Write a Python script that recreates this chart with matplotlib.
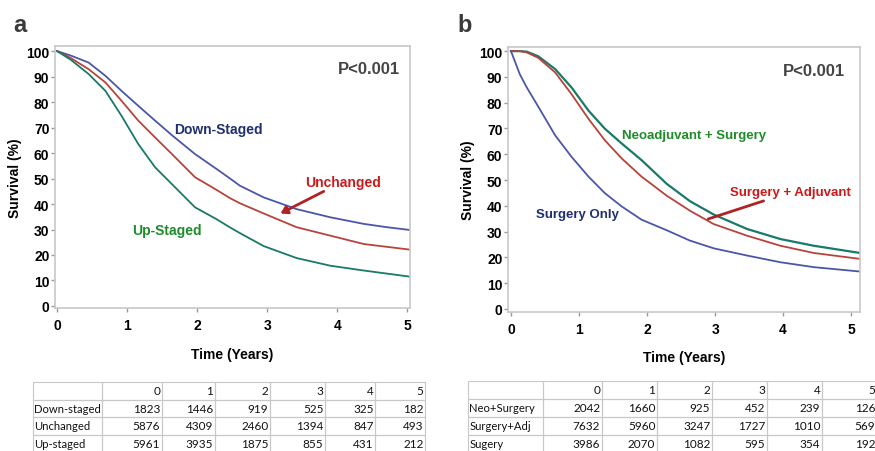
"""
Kaplan-Meier style survival curves with numbers-at-risk tables (panels a and b)
"""
import matplotlib.pyplot as plt

# ---- panel a data ----
t_a = [0, 0.2, 0.45, 0.69, 0.92, 1.16, 1.4, 1.64, 1.97, 2.28, 2.47, 2.61, 2.95,
       3.42, 3.9, 4.38, 4.71, 5.04]
down_staged = [100, 98.2, 95.5, 90.3, 84.4, 78.5, 72.7, 67.0, 59.6, 53.7, 50.0, 47.2,
               42.6, 38.0, 34.8, 32.2, 30.9, 29.8]
unchanged = [100, 97.2, 92.9, 87.7, 80.5, 72.7, 66.1, 59.6, 50.5, 45.5, 42.3, 40.3,
             36.3, 30.9, 27.6, 24.3, 23.2, 22.1]
up_staged = [100, 96.5, 91.0, 84.4, 74.6, 63.5, 54.4, 47.8, 38.7, 34.0, 30.8, 28.6,
             23.5, 18.8, 15.8, 13.9, 12.7, 11.5]

# ---- panel b data ----
t_b = [0, 0.13, 0.23, 0.4, 0.65, 0.89, 1.14, 1.38, 1.63, 1.92, 2.29, 2.63, 2.98,
       3.47, 3.96, 4.45, 5.13]
neo_surgery = [100, 100, 99.8, 98.0, 93.0, 85.9, 76.9, 69.9, 64.1, 57.7, 48.5, 41.8,
               36.6, 31.0, 27.1, 24.5, 21.7]
surgery_adj = [100, 100, 99.5, 97.4, 91.7, 83.3, 73.7, 65.4, 58.3, 51.3, 43.9, 38.1,
               32.9, 28.4, 24.5, 21.7, 19.4]
surgery_only = [100, 91.0, 86.0, 78.5, 67.3, 59.0, 51.3, 44.9, 39.7, 34.6, 30.5, 26.5,
                23.5, 20.7, 18.1, 16.2, 14.5]

# ---- numbers at risk ----
years = ["0", "1", "2", "3", "4", "5"]
risk_a_rows = ["Down-staged", "Unchanged", "Up-staged"]
risk_a = [[1823, 1446, 919, 525, 325, 182],
          [5876, 4309, 2460, 1394, 847, 493],
          [5961, 3935, 1875, 855, 431, 212]]
risk_b_rows = ["Neo+Surgery", "Surgery+Adj", "Sugery"]
risk_b = [[2042, 1660, 925, 452, 239, 126],
          [7632, 5960, 3247, 1727, 1010, 569],
          [3986, 2070, 1082, 595, 354, 192]]

BLUE = "#4b56a8"
RED = "#b8433a"
TEAL = "#187a68"
GRID = "#c8c8c8"

plt.rcParams['font.family'] = ['Liberation Sans', 'DejaVu Sans']

fig = plt.figure(figsize=(8.75, 4.52), dpi=100)


def style_axes(ax, xlim, ylim, xpad):
    ax.set_xlim(*xlim)
    ax.set_ylim(*ylim)
    ax.set_xticks(range(6))
    ax.set_yticks(range(0, 101, 10))
    for s in ax.spines.values():
        s.set_color(GRID)
        s.set_linewidth(1.2)
    ax.tick_params(axis="both", colors="#999999", length=3, width=1, labelcolor="black",
                   labelsize=10)
    ax.tick_params(axis="x", pad=4)
    ax.tick_params(axis="y", pad=1)
    for lab in ax.get_xticklabels() + ax.get_yticklabels():
        lab.set_fontweight("bold")
    ax.set_xlabel("Time (Years)", fontsize=10, fontweight="bold", labelpad=xpad)
    ax.set_ylabel("Survival (%)", fontsize=10, fontweight="bold", labelpad=3)


def draw_table(rect, rows, values, widths):
    tax = fig.add_axes(rect)
    tax.axis("off")
    cells = [[""] + years] + [[r] + [str(v) for v in vals] for r, vals in zip(rows, values)]
    tot = sum(widths)
    tbl = tax.table(cellText=cells, bbox=[0, 0, 1, 1],
                    colWidths=[w / tot for w in widths])
    tbl.auto_set_font_size(False)
    for (r, c), cell in tbl.get_celld().items():
        cell.set_edgecolor(GRID)
        cell.set_facecolor("none")
        cell.set_linewidth(0.8)
        txt = cell.get_text()
        txt.set_fontsize(8.1 if c == 0 else 8.5)
        txt.set_fontfamily(["Lato", "DejaVu Sans"])
        txt.set_color("#111111")
        cell.PAD = 0.02 if c == 0 else 0.03
        cell._loc = "left" if c == 0 else "right"
        txt.set_ha("left" if c == 0 else "right")


# ---------------- panel a ----------------
ax1 = fig.add_axes([55 / 875, (452 - 309) / 452, 355 / 875, 262 / 452])
ax1.plot(t_a, down_staged, color=BLUE, lw=1.3)
ax1.plot(t_a, unchanged, color=RED, lw=1.3)
ax1.plot(t_a, up_staged, color=TEAL, lw=1.3)
style_axes(ax1, (-0.03, 5.04), (-0.8, 102), 11)
ax1.text(1.67, 69.4, "Down-Staged", color="#1f2f72", fontsize=10, fontweight="bold", va="center")
ax1.text(1.07, 29.8, "Up-Staged", color="#1e8c2a", fontsize=10, fontweight="bold", va="center")
ax1.text(4.9, 93.3, "P<0.001", color="#444444", fontsize=12, fontweight="bold",
         va="center", ha="right")
ax1.annotate("Unchanged", xy=(3.19, 36.3), xytext=(3.54, 48.8), color="#cc1a1a",
             fontsize=10, fontweight="bold", va="center",
             arrowprops=dict(arrowstyle="-|>,head_width=0.25,head_length=0.4",
                             color="#b22222", lw=2, shrinkA=0, shrinkB=0))
fig.text(20 / 875, 1 - 25 / 452, "a", fontsize=17, fontweight="bold", color="#3a3a3a",
         ha="center", va="center")

# ---------------- panel b ----------------
ax2 = fig.add_axes([508 / 875, (452 - 313) / 452, 352 / 875, 265 / 452])
ax2.plot(t_b, neo_surgery, color=TEAL, lw=1.6)
ax2.plot(t_b, surgery_adj, color=RED, lw=1.3)
ax2.plot(t_b, surgery_only, color=BLUE, lw=1.3)
style_axes(ax2, (-0.044, 5.13), (-1.2, 101.6), 10)
ax2.text(1.63, 67.4, "Neoadjuvant + Surgery", color="#1e8c2a", fontsize=9.5,
         fontweight="bold", va="center")
ax2.text(0.37, 36.8, "Surgery Only", color="#1f2f72", fontsize=9.5, fontweight="bold",
         va="center")
ax2.text(4.91, 92.6, "P<0.001", color="#444444", fontsize=12, fontweight="bold",
         va="center", ha="right")
ax2.annotate("Surgery + Adjuvant", xy=(2.9, 34.9), xytext=(3.22, 45.3), color="#cc1a1a",
             fontsize=9.5, fontweight="bold", va="center",
             arrowprops=dict(arrowstyle="-", color="#b22222", lw=2, shrinkA=0, shrinkB=0))
fig.text(465 / 875, 1 - 25 / 452, "b", fontsize=17, fontweight="bold", color="#3a3a3a",
         ha="center", va="center")

# ---------------- at-risk tables ----------------
draw_table([33 / 875, (452 - 453) / 452, 392 / 875, 70 / 452], risk_a_rows, risk_a,
           [69, 60, 53, 55, 55, 50, 50])
draw_table([468 / 875, (452 - 454) / 452, 409 / 875, 72 / 452], risk_b_rows, risk_b,
           [75, 59, 55, 55, 55, 55, 55])

fig.savefig("out.png", dpi=100)
